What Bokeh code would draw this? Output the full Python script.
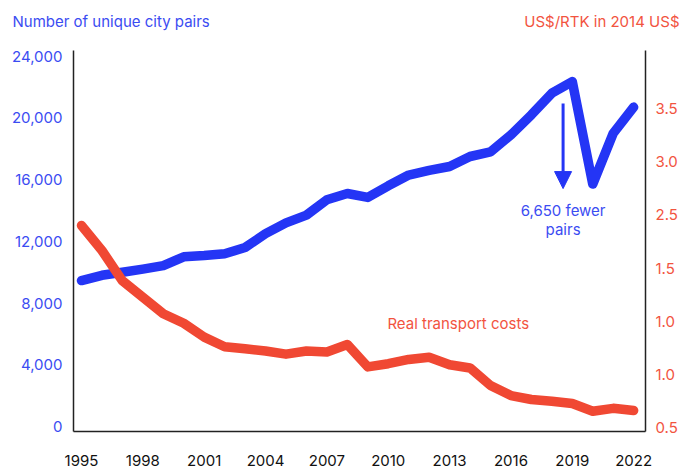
from bokeh.plotting import figure
from bokeh.layouts import column, row
from bokeh.models import (Range1d, LinearAxis, Label, Arrow, NormalHead,
                          NumeralTickFormatter, FixedTicker)
from bokeh.core.properties import value
from bokeh.embed import file_html
from bokeh.resources import INLINE

# ---- data ----
years = list(range(1995, 2023))
city_pairs = [9460, 9800, 10000, 10200, 10430, 11000, 11080, 11200, 11600, 12500,
              13200, 13700, 14700, 15100, 14850, 15600, 16300, 16600, 16850, 17500,
              17800, 18900, 20200, 21600, 22360, 15710, 19000, 20700]
transport_cost = [2.40, 2.165, 1.88, 1.726, 1.57, 1.48, 1.35, 1.26, 1.24, 1.22,
                  1.19, 1.22, 1.21, 1.28, 1.07, 1.10, 1.14, 1.16, 1.09, 1.06,
                  0.895, 0.80, 0.763, 0.747, 0.725, 0.653, 0.68, 0.66]
x_ticks = [1995, 1998, 2001, 2004, 2007, 2010, 2013, 2016, 2019, 2022]
left_ticks = [0, 4000, 8000, 12000, 16000, 20000, 24000]
right_ticks = [0.5, 1.0, 1.5, 2.0, 2.5, 3.0, 3.5]
right_tick_labels = {0.5: "0.5", 1.0: "1.0", 1.5: "1.0", 2.0: "1.5",
                     2.5: "2.5", 3.0: "3.0", 3.5: "3.5"}
left_title = "Number of unique city pairs"
right_title = "US$/RTK in 2014 US$"
drop_year = 2018.55
drop_from, drop_to = 20930, 15420

BLUE = "#2435F5"
BLUE_T = "#3B4CF2"
RED = "#F04833"
RED_T = "#F2543F"
FONT = "Inter"
W = 690

# ---- header strip with the two axis titles ----
head = figure(width=W, height=42, output_backend="svg", toolbar_location=None,
              x_range=Range1d(0, W), y_range=Range1d(42, 0),
              x_axis_location=None, y_axis_location=None,
              min_border=0, outline_line_color=None)
head.grid.visible = False
head.text(x=[12], y=[21], text=[left_title], text_align="left",
          text_baseline="middle", text_color=BLUE_T, text_font=value(FONT),
          text_font_size="15px")
head.text(x=[679], y=[21], text=[right_title], text_align="right",
          text_baseline="middle", text_color=RED_T, text_font=value(FONT),
          text_font_size="15px")

# ---- main chart ----
p = figure(width=W, height=426, output_backend="svg", toolbar_location=None,
           x_range=Range1d(1994.609, 2022.58), y_range=Range1d(-324, 24370),
           min_border_left=73, min_border_right=45, min_border_top=8,
           min_border_bottom=37, outline_line_color=None)
p.frame_width = 572
p.frame_height = 381
p.grid.visible = False
p.extra_y_ranges = {"cost": Range1d(0.462, 4.047)}

p.line(years, city_pairs, line_color=BLUE, line_width=9.5, line_cap="round",
       line_join="round")
p.line(years, transport_cost, y_range_name="cost", line_color=RED, line_width=9.5,
       line_cap="round", line_join="round")

# axes
xa = p.xaxis[0]
xa.ticker = FixedTicker(ticks=x_ticks)
xa.major_tick_line_color = None
xa.minor_tick_line_color = None
xa.axis_line_color = "#222222"
xa.axis_line_width = 1.5
xa.major_label_standoff = 17
xa.major_label_text_font = FONT
xa.major_label_text_font_size = "15px"
xa.major_label_text_color = "#111111"

ya = p.yaxis[0]
ya.ticker = FixedTicker(ticks=left_ticks)
ya.formatter = NumeralTickFormatter(format="0,0")
ya.major_tick_line_color = None
ya.minor_tick_line_color = None
ya.axis_line_color = "#222222"
ya.axis_line_width = 1.5
ya.major_label_standoff = 5
ya.major_label_text_font = FONT
ya.major_label_text_font_size = "15px"
ya.major_label_text_color = BLUE_T

ra = LinearAxis(y_range_name="cost", ticker=FixedTicker(ticks=right_ticks),
                major_label_overrides=right_tick_labels)
ra.major_tick_line_color = None
ra.minor_tick_line_color = None
ra.axis_line_color = "#222222"
ra.axis_line_width = 1.5
ra.major_label_standoff = 4
ra.major_label_text_font = FONT
ra.major_label_text_font_size = "15px"
ra.major_label_text_color = RED_T
p.add_layout(ra, "right")

# annotations
p.add_layout(Arrow(end=NormalHead(size=17, fill_color=BLUE, line_color=BLUE),
                   x_start=drop_year, y_start=drop_from, x_end=drop_year, y_end=drop_to,
                   line_color=BLUE, line_width=3))
p.add_layout(Label(x=drop_year, y=14000, text="6,650 fewer", text_align="center",
                   text_baseline="middle", text_color=BLUE_T, text_font=FONT,
                   text_font_size="15px"))
p.add_layout(Label(x=drop_year, y=12770, text="pairs", text_align="center",
                   text_baseline="middle", text_color=BLUE_T, text_font=FONT,
                   text_font_size="15px"))
p.add_layout(Label(x=2009.96, y=1.478, y_range_name="cost", text="Real transport costs",
                   text_align="left", text_baseline="middle", text_color=RED_T,
                   text_font=FONT, text_font_size="15px"))

layout = column(row(head), p, spacing=0)
open("out.html", "w").write(file_html(layout, INLINE))
